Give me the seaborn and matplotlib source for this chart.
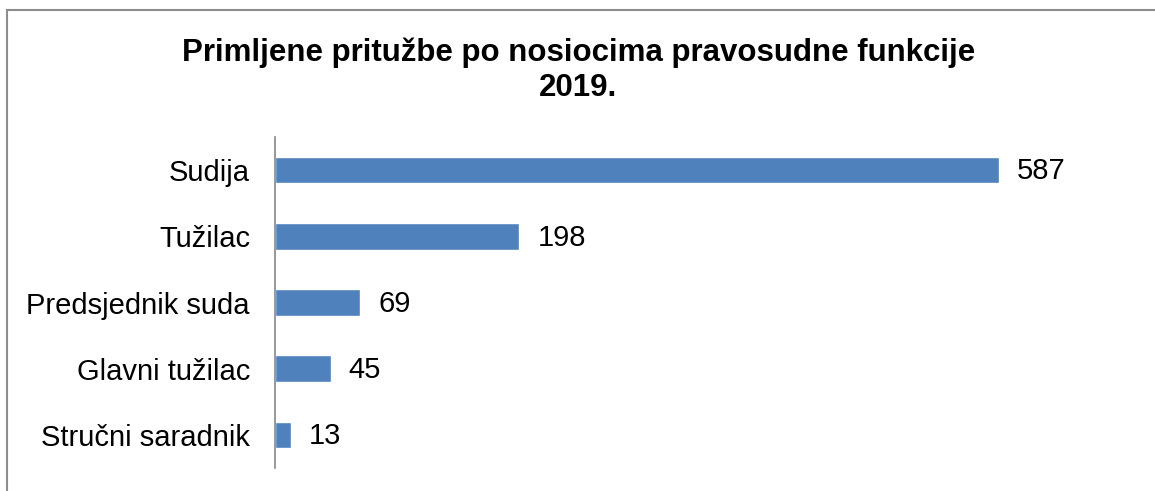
import seaborn as sns
import matplotlib.pyplot as plt
import pandas as pd
from matplotlib.patches import Rectangle

categories = ['Sudija', 'Tužilac', 'Predsjednik suda', 'Glavni tužilac', 'Stručni saradnik']
counts = [587, 198, 69, 45, 13]

W, H = 1155, 491
sns.set_style('white')
plt.rcParams['font.family'] = ['Liberation Sans', 'DejaVu Sans']

fig = plt.figure(figsize=(W / 100, H / 100), dpi=100)
ax = fig.add_axes([275 / W, 1 - 468 / H, 845 / W, 331 / H])

df = pd.DataFrame({'kategorija': categories, 'broj': counts})
sns.barplot(data=df, x='broj', y='kategorija', orient='h', color='#4F81BD',
            saturation=1, width=0.4, ax=ax)

ax.set_xlim(0, 587 * 845 / 724)
ax.set_xlabel('')
ax.set_ylabel('')
ax.set_xticks([])
ax.tick_params(axis='y', length=0, pad=18, labelsize=21, labelcolor='#000000')
for s in ['top', 'right', 'bottom']:
    ax.spines[s].set_visible(False)
ax.spines['left'].set_color('#868686')
ax.spines['left'].set_linewidth(1.2)

for i, v in enumerate(counts):
    ax.annotate(str(v), (v, i), xytext=(13, -1), textcoords='offset points',
                va='center', ha='left', fontsize=21, color='#000000')

fig.text(0.5 + 1 / W, 1 - 70 / H, 'Primljene pritužbe po nosiocima pravosudne funkcije\n2019.',
         ha='center', va='center', fontsize=22.5, fontweight='bold', linespacing=1.2,
         color='#000000')

fig.patches.append(Rectangle((7 / W, -0.1), 1.2, 1 - 10 / H + 0.1, transform=fig.transFigure,
                             fill=False, edgecolor='#8c8c8c', linewidth=1.5, clip_on=False))

fig.savefig('out.png', dpi=100)
